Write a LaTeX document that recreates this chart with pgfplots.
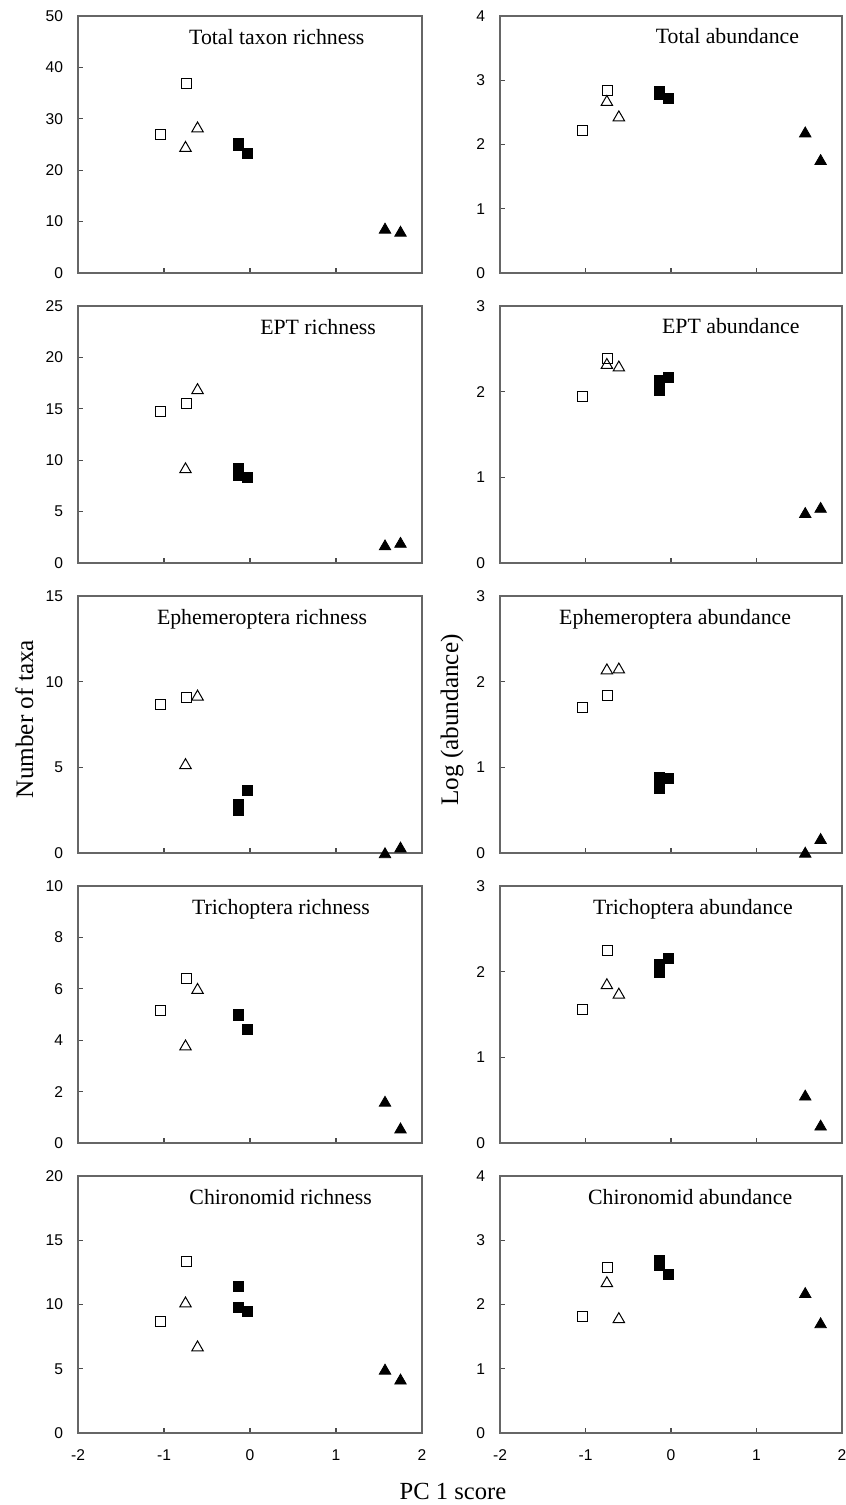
\documentclass[border=0pt]{standalone}
\usepackage{fontspec}
\setmainfont{Liberation Serif}
\newfontfamily\arialfont{Liberation Sans}
\usepackage{pgfplots}
\pgfplotsset{compat=1.18}

% 1 px of the reference = 0.5pt
\pgfplotsset{
  panel/.style={scale only axis, width=172pt, height=128.5pt, anchor=south west,
    xmin=-2, xmax=2, ymin=0, xtick={-2,-1,0,1,2}, xticklabels={},
    tick align=inside, tick pos=left, major tick length=2.5pt,
    axis line style={black!60, line width=0.6pt},
    every tick/.style={black!70, line width=0.6pt},
    ticklabel style={font=\arialfont\fontsize{7.8}{9}\selectfont},
    /pgf/number format/assume math mode=true,
    yticklabel style={xshift=-4pt}, clip=false},
  bottompanel/.style={xticklabels={-2,-1,0,1,2}, xticklabel style={yshift=-5pt}},
  osq/.style={only marks, mark=square, mark size=2.5pt,
    mark options={draw=black, fill=white, line width=0.5pt}},
  otri/.style={only marks, mark=triangle, mark size=3.3pt,
    mark options={draw=black, fill=white, line width=0.5pt}},
  fsq/.style={only marks, mark=square*, mark size=2.5pt,
    mark options={draw=black, fill=black, line width=0.4pt}},
  ftri/.style={only marks, mark=triangle*, mark size=3.3pt,
    mark options={draw=black, fill=black, line width=0.4pt}},
}
\newcommand{\ptitle}[2]{\node[anchor=base, font=\fontsize{10.9}{12}\selectfont, inner sep=0pt]
  at (axis description cs:#1,0.891) {#2};}

\begin{document}
\begin{tikzpicture}
\path[use as bounding box] (0,0) rectangle (423pt,752.5pt);

% ---- row 1
\begin{axis}[panel, at={(39pt,616pt)}, ymax=50, ytick={0,10,...,50}]
\addplot[osq] coordinates {(-1.04,26.9) (-0.74,36.8)};
\addplot[otri] coordinates {(-0.75,24.3) (-0.61,28.1)};
\addplot[fsq] coordinates {(-0.13,25.2) (-0.13,24.9) (-0.03,23.2)};
\addplot[ftri] coordinates {(1.57,8.4) (1.75,7.8)};
\ptitle{0.578}{Total taxon richness}
\end{axis}
\begin{axis}[panel, at={(250pt,616pt)}, width=171pt, ymax=4, ytick={0,1,...,4}]
\addplot[osq] coordinates {(-1.04,2.21) (-0.74,2.84)};
\addplot[otri] coordinates {(-0.75,2.66) (-0.61,2.42)};
\addplot[fsq] coordinates {(-0.13,2.82) (-0.13,2.78) (-0.03,2.71)};
\addplot[ftri] coordinates {(1.57,2.17) (1.75,1.74)};
\ptitle{0.665}{Total abundance}
\end{axis}

% ---- row 2
\begin{axis}[panel, at={(39pt,471pt)}, ymax=25, ytick={0,5,...,25}]
\addplot[osq] coordinates {(-1.04,14.75) (-0.74,15.5)};
\addplot[otri] coordinates {(-0.75,9.1) (-0.61,16.8)};
\addplot[fsq] coordinates {(-0.13,9.18) (-0.13,8.53) (-0.03,8.3)};
\addplot[ftri] coordinates {(1.57,1.6) (1.75,1.85)};
\ptitle{0.698}{EPT richness}
\end{axis}
\begin{axis}[panel, at={(250pt,471pt)}, width=171pt, ymax=3, ytick={0,1,2,3}]
\addplot[osq] coordinates {(-1.04,1.94) (-0.74,2.39)};
\addplot[otri] coordinates {(-0.75,2.31) (-0.61,2.28)};
\addplot[fsq] coordinates {(-0.13,2.13) (-0.13,2.02) (-0.03,2.17)};
\addplot[ftri] coordinates {(1.57,0.57) (1.75,0.63)};
\ptitle{0.675}{EPT abundance}
\end{axis}

% ---- row 3
\begin{axis}[panel, at={(39pt,326pt)}, ymax=15, ytick={0,5,10,15}]
\addplot[osq] coordinates {(-1.04,8.64) (-0.74,9.09)};
\addplot[otri] coordinates {(-0.75,5.12) (-0.61,9.12)};
\addplot[fsq] coordinates {(-0.13,2.84) (-0.13,2.49) (-0.03,3.66)};
\addplot[ftri] coordinates {(1.57,-0.08) (1.75,0.25)};
\ptitle{0.535}{Ephemeroptera richness}
\end{axis}
\begin{axis}[panel, at={(250pt,326pt)}, width=171pt, ymax=3, ytick={0,1,2,3}]
\addplot[osq] coordinates {(-1.04,1.70) (-0.74,1.84)};
\addplot[otri] coordinates {(-0.75,2.13) (-0.61,2.14)};
\addplot[fsq] coordinates {(-0.13,0.885) (-0.13,0.757) (-0.03,0.87)};
\addplot[ftri] coordinates {(1.57,-0.01) (1.75,0.15)};
\ptitle{0.512}{Ephemeroptera abundance}
\end{axis}

% ---- row 4
\begin{axis}[panel, at={(39pt,181pt)}, ymax=10, ytick={0,2,...,10}]
\addplot[osq] coordinates {(-1.04,5.17) (-0.74,6.41)};
\addplot[otri] coordinates {(-0.75,3.75) (-0.61,5.95)};
\addplot[fsq] coordinates {(-0.13,5.0) (-0.13,4.98) (-0.03,4.41)};
\addplot[ftri] coordinates {(1.57,1.56) (1.75,0.52)};
\ptitle{0.590}{Trichoptera richness}
\end{axis}
\begin{axis}[panel, at={(250pt,181pt)}, width=171pt, ymax=3, ytick={0,1,2,3}]
\addplot[osq] coordinates {(-1.04,1.56) (-0.74,2.25)};
\addplot[otri] coordinates {(-0.75,1.84) (-0.61,1.73)};
\addplot[fsq] coordinates {(-0.13,2.09) (-0.13,1.99) (-0.03,2.15)};
\addplot[ftri] coordinates {(1.57,0.54) (1.75,0.19)};
\ptitle{0.564}{Trichoptera abundance}
\end{axis}

% ---- row 5
\begin{axis}[panel, bottompanel, at={(39pt,36pt)}, ymax=20, ytick={0,5,...,20}]
\addplot[osq] coordinates {(-1.04,8.64) (-0.74,13.38)};
\addplot[otri] coordinates {(-0.75,10.07) (-0.61,6.65)};
\addplot[fsq] coordinates {(-0.13,11.39) (-0.13,9.78) (-0.03,9.5)};
\addplot[ftri] coordinates {(1.57,4.84) (1.75,4.07)};
\ptitle{0.589}{Chironomid richness}
\end{axis}
\begin{axis}[panel, bottompanel, at={(250pt,36pt)}, width=171pt, ymax=4, ytick={0,1,...,4}]
\addplot[osq] coordinates {(-1.04,1.81) (-0.74,2.58)};
\addplot[otri] coordinates {(-0.75,2.33) (-0.61,1.77)};
\addplot[fsq] coordinates {(-0.13,2.69) (-0.13,2.61) (-0.03,2.47)};
\addplot[ftri] coordinates {(1.57,2.16) (1.75,1.69)};
\ptitle{0.556}{Chironomid abundance}
\end{axis}

% shared axis labels
\node[rotate=90, anchor=base, font=\fontsize{12.6}{14}\selectfont, inner sep=0pt]
  at (16.5pt,393pt) {Number of taxa};
\node[rotate=90, anchor=base, font=\fontsize{12.6}{14}\selectfont, inner sep=0pt]
  at (229pt,392.5pt) {Log (abundance)};
\node[anchor=base, font=\fontsize{12.3}{14}\selectfont, inner sep=0pt]
  at (226.5pt,2.5pt) {PC 1 score};
\end{tikzpicture}
\end{document}
